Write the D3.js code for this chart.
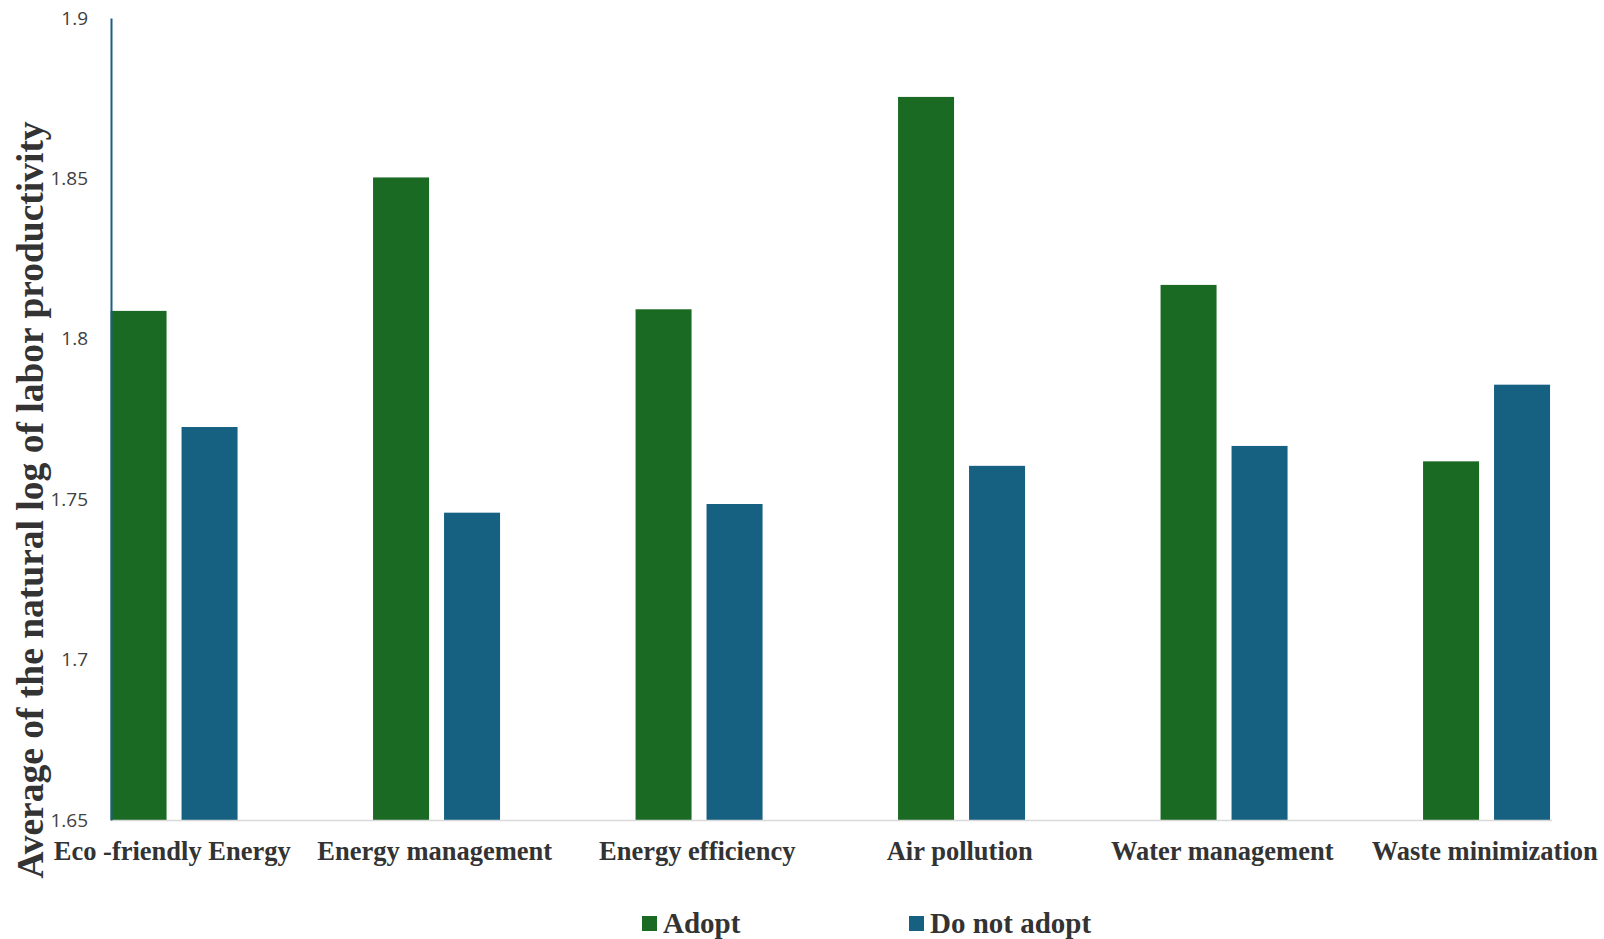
<!DOCTYPE html>
<html>
<head>
<meta charset="utf-8">
<script src="https://cdn.jsdelivr.net/npm/d3@7"></script>
<style>
  html, body { margin: 0; padding: 0; background: #ffffff; }
  svg { display: block; }
</style>
</head>
<body>
<svg id="chart" width="1604" height="939"></svg>
<script>
// Practices compared, and mean log labour productivity for adopters vs non-adopters
const categories = ["Eco -friendly Energy", "Energy management", "Energy efficiency",
                    "Air pollution", "Water management", "Waste minimization"];
const seriesNames = ["Adopt", "Do not adopt"];
const adoptValues    = [1.8087, 1.8503, 1.8092, 1.8754, 1.8168, 1.7618];
const notAdoptValues = [1.7725, 1.7458, 1.7485, 1.7604, 1.7666, 1.7857];
const yTicks = [1.65, 1.7, 1.75, 1.8, 1.85, 1.9];
const yTickLabels = ["1.65", "1.7", "1.75", "1.8", "1.85", "1.9"];
const yTitle = "Average of the natural log of labor productivity";

const colors = { "Adopt": "#1b6a24", "Do not adopt": "#166082" };

const svg = d3.select("#chart");

const plot = { left: 111, right: 1552, top: 18, bottom: 820 };

// Category bands (labels sit at band centres)
const x = d3.scaleBand()
  .domain(categories)
  .range([41, 1616])
  .padding(0);

// Bar clusters sit slightly right of the band centre
const clusterShift = 1.8;

const xInner = d3.scaleBand()
  .domain(seriesNames)
  .range([-63.5, 63.5])
  .paddingInner(0.211)
  .paddingOuter(0);

const y = d3.scaleLinear()
  .domain([1.65, 1.9])
  .range([plot.bottom, plot.top]);

const rows = categories.map((c, i) => ({
  category: c,
  values: [
    { series: "Adopt", value: adoptValues[i] },
    { series: "Do not adopt", value: notAdoptValues[i] }
  ]
}));

// Bars
const groups = svg.append("g").attr("class", "bars")
  .selectAll("g")
  .data(rows)
  .join("g")
  .attr("transform", d => `translate(${x(d.category) + x.bandwidth() / 2 + clusterShift},0)`);

groups.selectAll("rect")
  .data(d => d.values)
  .join("rect")
  .attr("x", d => xInner(d.series))
  .attr("width", xInner.bandwidth())
  .attr("y", d => y(d.value))
  .attr("height", d => y(1.65) - y(d.value))
  .attr("fill", d => colors[d.series]);

// Horizontal baseline
svg.append("line")
  .attr("x1", plot.left).attr("x2", plot.right)
  .attr("y1", y(1.65) + 0.5).attr("y2", y(1.65) + 0.5)
  .attr("stroke", "#d9d9d9")
  .attr("stroke-width", 1.6);

// Y axis
const yAxis = d3.axisLeft(y)
  .tickValues(yTicks)
  .tickFormat((d, i) => yTickLabels[i])
  .tickSize(0)
  .tickPadding(23);

const yAxisG = svg.append("g")
  .attr("transform", `translate(${plot.left},0)`)
  .call(yAxis);

yAxisG.select(".domain")
  .attr("stroke", "#1a5f8a")
  .attr("stroke-width", 2);

yAxisG.selectAll(".tick text")
  .attr("font-family", "'Open Sans', sans-serif")
  .attr("font-size", 19)
  .attr("fill", "#404040");

// X axis labels
const xAxis = d3.axisBottom(x).tickSize(0).tickPadding(0);
const xAxisG = svg.append("g")
  .attr("transform", `translate(0,${plot.bottom})`)
  .call(xAxis);
xAxisG.select(".domain").remove();
xAxisG.selectAll(".tick text")
  .attr("dy", null)
  .attr("y", 40)
  .attr("font-family", "'Liberation Serif', 'Times New Roman', serif")
  .attr("font-weight", "bold")
  .attr("font-size", 26.5)
  .attr("fill", "#333333");

// Y axis title
svg.append("text")
  .attr("transform", "translate(43,500) rotate(-90)")
  .attr("text-anchor", "middle")
  .attr("font-family", "'Liberation Serif', 'Times New Roman', serif")
  .attr("font-weight", "bold")
  .attr("font-size", 37.5)
  .attr("fill", "#333333")
  .text(yTitle);

// Legend
const legendX = [642, 909];
const legend = svg.append("g").attr("class", "legend")
  .selectAll("g")
  .data(seriesNames)
  .join("g")
  .attr("transform", (d, i) => `translate(${legendX[i]},916)`);

legend.append("rect")
  .attr("width", 15).attr("height", 15)
  .attr("fill", d => colors[d]);

legend.append("text")
  .attr("x", 21)
  .attr("y", 16.5)
  .attr("font-family", "'Liberation Serif', 'Times New Roman', serif")
  .attr("font-weight", "bold")
  .attr("font-size", 29)
  .attr("fill", "#333333")
  .text(d => d);
</script>
</body>
</html>
